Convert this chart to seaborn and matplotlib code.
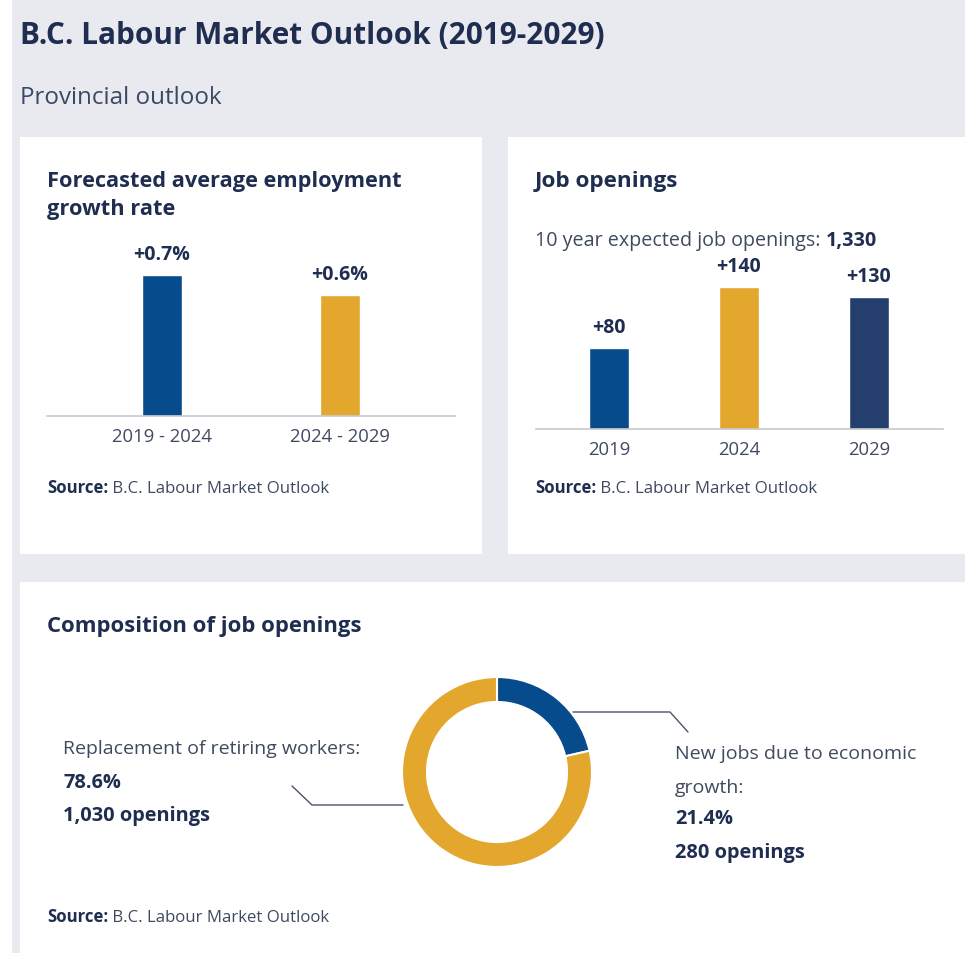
import matplotlib.pyplot as plt
import seaborn as sns
from matplotlib.patches import Rectangle
from matplotlib.lines import Line2D

# data
growth_periods = ["2019 - 2024", "2024 - 2029"]
growth_rates = [0.7, 0.6]
growth_labels = ["+0.7%", "+0.6%"]

opening_years = ["2019", "2024", "2029"]
openings = [80, 140, 130]
opening_labels = ["+80", "+140", "+130"]
total_openings = "1,330"

comp_parts = ["New jobs due to economic growth:", "Replacement of retiring workers:"]
comp_share = [21.4, 78.6]
comp_counts = ["280 openings", "1,030 openings"]

BLUE = "#064c8c"
GOLD = "#e3a72e"
NAVY = "#243f6e"
BG = "#e9eaf0"
TITLE = "#1e2d50"
BODY = "#404a5f"

W, H = 965, 954

sns.set_style("white")
plt.rcParams["font.family"] = ["Open Sans", "DejaVu Sans"]


def fx(x):
    return x / W


def fy(y):
    return 1 - y / H


def box(x0, y0, x1, y1):
    # rectangle in figure pixel coords, y from the top
    return [fx(x0), fy(y1), (x1 - x0) / W, (y1 - y0) / H]


def panel(fig, x0, y0, x1, y1, color="white"):
    fig.add_artist(Rectangle((fx(x0), fy(y1)), (x1 - x0) / W, (y1 - y0) / H,
                             transform=fig.transFigure, facecolor=color,
                             edgecolor="none", zorder=-2))


def text(fig, x, y, s, size, bold=False, color=BODY, **kw):
    return fig.text(fx(x), fy(y), s, fontsize=size, color=color,
                    fontweight="bold" if bold else "normal", va="center", **kw)


def source(fig, ax, x, y):
    t = text(fig, x, y, "Source:", 12.1, bold=True, color=TITLE)
    ax.annotate(" B.C. Labour Market Outlook", xy=(1, 0), xycoords=t,
                va="bottom", ha="left", fontsize=12.1, color=BODY,
                annotation_clip=False)


def bar_panel(ax, cats, vals, labels, colors, width, ymax, xlim):
    sns.barplot(x=cats, y=vals, hue=cats, palette=colors, width=width,
                saturation=1, legend=False, ax=ax)
    ax.set_ylim(0, ymax)
    ax.set_xlim(*xlim)
    ax.set_facecolor("none")
    sns.despine(ax=ax, left=True)
    ax.spines["bottom"].set_color("#c6c8cc")
    ax.spines["bottom"].set_linewidth(1.2)
    ax.set_yticks([])
    ax.set_ylabel("")
    ax.tick_params(axis="x", length=0, pad=8, labelsize=13.3, labelcolor=BODY)
    for i, (v, lab) in enumerate(zip(vals, labels)):
        ax.annotate(lab, xy=(i, v), xytext=(0, 8), textcoords="offset points",
                    ha="center", va="bottom", fontsize=14, fontweight="bold",
                    color=TITLE)


fig = plt.figure(figsize=(W / 100, H / 100), dpi=100)
fig.patch.set_facecolor("white")
panel(fig, 12, 0, 965, 954, BG)
panel(fig, 20, 138, 482, 555)
panel(fig, 508, 138, 965, 555)
panel(fig, 20, 583, 965, 954)

text(fig, 20, 36, "B.C. Labour Market Outlook (2019-2029)", 21.4, bold=True, color=TITLE)
text(fig, 20, 98, "Provincial outlook", 17.4, color="#3b4866")

# panel 1: growth rate
ax1 = fig.add_axes(box(47, 240, 455, 417))
bar_panel(ax1, growth_periods, growth_rates, growth_labels, [BLUE, GOLD],
          0.23, 0.7 * 177 / 141, (-0.646, 1.646))
text(fig, 47, 181, "Forecasted average employment", 15.65, bold=True, color=TITLE)
text(fig, 47, 210, "growth rate", 15.65, bold=True, color=TITLE)
source(fig, ax1, 47, 488)

# panel 2: job openings
ax2 = fig.add_axes(box(536, 260, 943, 430))
bar_panel(ax2, opening_years, openings, opening_labels, [BLUE, GOLD, NAVY],
          0.31, 170 / 1.013, (-0.56, 2.57))
text(fig, 535, 182, "Job openings", 16.2, bold=True, color=TITLE)
t = text(fig, 535, 241, "10 year expected job openings: ", 14.25, color=BODY)
ax2.annotate(total_openings, xy=(1, 0), xycoords=t, va="bottom", ha="left",
             fontsize=14.25, fontweight="bold", color=TITLE, annotation_clip=False)
source(fig, ax2, 535, 488)

# panel 3: composition donut
ax3 = fig.add_axes(box(397, 673, 597, 873))
ax3.pie(comp_share, colors=[BLUE, GOLD], startangle=90, counterclock=False,
        wedgeprops=dict(width=0.263, edgecolor="white", linewidth=1.5))
ax3.set_xlim(-100 / 95, 100 / 95)
ax3.set_ylim(-100 / 95, 100 / 95)
ax3.set_aspect("equal")
ax3.set_facecolor("none")

text(fig, 47, 627, "Composition of job openings", 15.9, bold=True, color=TITLE)

leader = dict(color="#4a5468", linewidth=1, transform=fig.transFigure)
fig.add_artist(Line2D([fx(573), fx(670), fx(688)], [fy(713), fy(713), fy(733)], **leader))
fig.add_artist(Line2D([fx(292), fx(312), fx(403)], [fy(787), fy(806), fy(806)], **leader))

text(fig, 675, 754, "New jobs due to economic", 14)
text(fig, 675, 788, "growth:", 14)
text(fig, 675, 819, f"{comp_share[0]}%", 14.4, bold=True, color=TITLE)
text(fig, 675, 853, comp_counts[0], 14.4, bold=True, color=TITLE)

text(fig, 63, 749, comp_parts[1], 14)
text(fig, 63, 783, f"{comp_share[1]}%", 14.4, bold=True, color=TITLE)
text(fig, 63, 816, comp_counts[1], 14.4, bold=True, color=TITLE)

source(fig, ax3, 47, 917)

fig.savefig("out.png", dpi=100, facecolor=fig.get_facecolor())
